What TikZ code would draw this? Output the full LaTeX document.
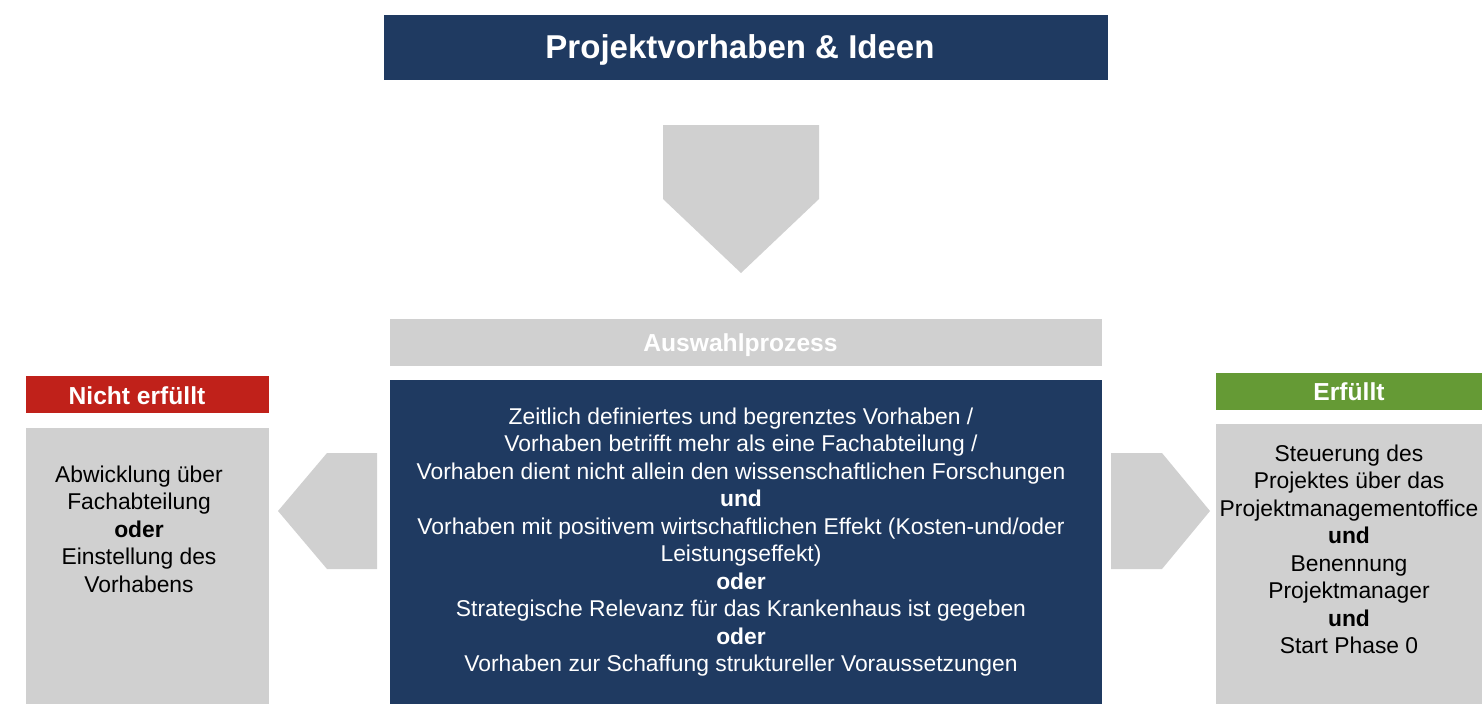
\documentclass[tikz,border=0pt]{standalone}
\usepackage{fontspec}
\setmainfont{Liberation Sans}
\usepackage{xcolor}
\usetikzlibrary{positioning}

\definecolor{navy}{HTML}{1F3A61}
\definecolor{lightgray}{HTML}{D0D0D0}
\definecolor{redhead}{HTML}{C0211A}
\definecolor{greenhead}{HTML}{659A35}

\begin{document}
\begin{tikzpicture}[
		x=0.02cm, y=-0.02cm, % one unit = one pixel of the layout
		node distance=0.26cm and 1cm,
		bar/.style={rectangle, inner sep=0pt},
		headtxt/.style={text=white, inner sep=0pt, font=\fontsize{14}{16}\selectfont\bfseries},
		panel/.style={rectangle, fill=lightgray, inner sep=0pt},
		body/.style={align=center, inner sep=0pt, font=\fontsize{13}{15.65}\selectfont},
		blockarrow/.style={fill=lightgray, draw=none}
		]
		\useasboundingbox (0,0) rectangle (1484,717);
		
		% Top
		\node[bar, fill=navy, minimum width=14.48cm, minimum height=1.3cm] (ideen) at (746,47.5) {};
		\node[headtxt, font=\fontsize{18.8}{22}\selectfont\bfseries] (ideentxt) at (740,50) {Projektvorhaben \& Ideen};
		
		% Selection process
		\node[panel, minimum width=14.24cm, minimum height=0.94cm] (auswahl) at (746,342.5) {};
		\node[headtxt] (auswahltxt) at (740.5,345) {Auswahlprozess};
		\node[bar, fill=navy, minimum width=14.24cm, minimum height=6.48cm, below=of auswahl] (kriterien) {};
		\node[body, text=white] (kriterientxt) at (741,542) {Zeitlich definiertes und begrenztes Vorhaben /\\Vorhaben betrifft mehr als eine Fachabteilung /\\Vorhaben dient nicht allein den wissenschaftlichen Forschungen\\\textbf{und}\\Vorhaben mit positivem wirtschaftlichen Effekt (Kosten-und/oder\\Leistungseffekt)\\\textbf{oder}\\Strategische Relevanz für das Krankenhaus ist gegeben\\\textbf{oder}\\Vorhaben zur Schaffung struktureller Voraussetzungen};
		
		% Not fulfilled
		\node[bar, fill=redhead, minimum width=4.86cm, minimum height=0.74cm] (nicht) at (147.5,394.5) {};
		\node[headtxt] (nichttxt) at (137,396) {Nicht erfüllt};
		\node[panel, minimum width=4.86cm, minimum height=5.52cm, below=0.28cm of nicht] (abbruch) {};
		\node[body] (abbruchtxt) at (139,529) {Abwicklung über\\Fachabteilung\\\textbf{oder}\\Einstellung des\\Vorhabens};
		
		% Fulfilled
		\node[bar, fill=greenhead, minimum width=5.32cm, minimum height=0.74cm] (erfuellt) at (1349,391.5) {};
		\node[headtxt] (erfuellttxt) at (1349,392) {Erfüllt};
		\node[panel, minimum width=5.32cm, minimum height=5.6cm, below=of erfuellt] (start) {};
		\node[body] (starttxt) at (1349,549.5) {Steuerung des\\Projektes über das\\Projektmanagementoffice\\\textbf{und}\\Benennung\\Projektmanager\\\textbf{und}\\Start Phase 0};
		
		% Block arrows
		\fill[blockarrow] (663,125) -- (819,125) -- (819,199) -- (741,273) -- (663,199) -- cycle;
		\fill[blockarrow] (377,453) -- (377,569) -- (327,569) -- (278,511) -- (327,453) -- cycle;
		\fill[blockarrow] (1111,453) -- (1162,453) -- (1210,511) -- (1162,569) -- (1111,569) -- cycle;
		
	\end{tikzpicture}
\end{document}
